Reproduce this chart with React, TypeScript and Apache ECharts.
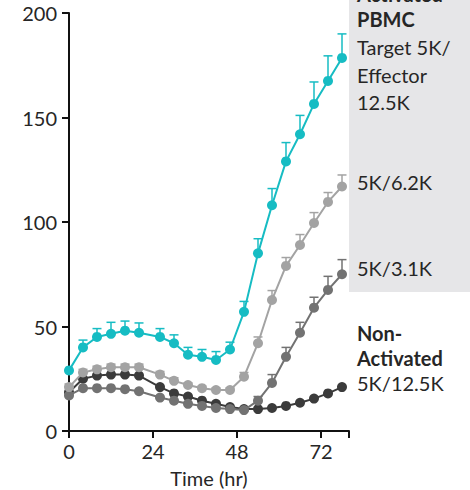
import React, { useEffect, useRef } from "react";
import * as echarts from "echarts";

const times = [0, 4, 8, 12, 16, 20, 26, 30, 34, 38, 42, 46, 50, 54, 58, 62, 66, 70, 74, 78];

const activated12_5K = [29, 40, 45, 46.5, 48, 47, 45, 42, 36.5, 35.5, 34, 39, 57, 85, 108, 129, 142, 156.5, 167.5, 178.5];
const activated12_5KErr = [0, 3.5, 4, 5.5, 4.6, 4.7, 4, 4, 3.5, 3.5, 4, 3.5, 5, 7, 8, 9, 9, 10.5, 12, 11.5];

const activated6_2K = [21, 28, 29.5, 30.5, 30.5, 30.5, 27, 24, 22, 20.5, 19.6, 19.6, 26, 42, 62.7, 79, 89, 99.5, 109.6, 117];
const activated6_2KErr = [1.5, 1.5, 1.5, 1.5, 1.5, 1.5, 1.5, 1.5, 1, 1, 1, 1, 2, 3, 4.5, 4, 5, 5, 4.5, 5.5];

const activated3_1K = [17, 20.5, 20.5, 20.5, 20, 19, 16, 14.5, 13, 12, 11, 10.5, 10, 14.5, 23, 35.5, 47, 59, 67.5, 75];
const activated3_1KErr = [0, 0, 0, 0, 0, 0, 0, 0, 0, 0, 0, 0, 0, 2, 4, 4.5, 5, 5, 6.5, 7];

const nonActivated12_5K = [18.5, 25, 26.5, 27, 27, 26.5, 21, 18, 16.5, 14.5, 13, 11.5, 10.5, 10.5, 11, 12, 13.5, 15.5, 18, 21];

const xTicks = [0, 24, 48, 72];
const yTicks = [0, 50, 100, 150, 200];

const TEAL = "#16bcc3";
const LIGHT = "#a3a3a3";
const MEDIUM = "#727272";
const DARK = "#3b3b3b";
const FONT = "Lato";

function errSeries(values: number[], errs: number[], color: string) {
  return {
    type: "custom",
    z: 1,
    data: times.map((t, i) => [t, values[i], errs[i]]),
    renderItem: (params: any, api: any) => {
      const x = api.value(0);
      const y = api.value(1);
      const e = api.value(2);
      if (!e) return { type: "group", children: [] };
      const p0 = api.coord([x, y]);
      const p1 = api.coord([x, y + e]);
      const style = { stroke: color, lineWidth: 1.5, fill: "none" };
      return {
        type: "group",
        children: [
          { type: "line", shape: { x1: p0[0], y1: p0[1], x2: p1[0], y2: p1[1] }, style },
          { type: "line", shape: { x1: p1[0] - 4.5, y1: p1[1], x2: p1[0] + 4.5, y2: p1[1] }, style },
        ],
      };
    },
  };
}

function lineSeries(name: string, values: number[], color: string, z: number) {
  return {
    type: "line",
    name,
    z,
    data: times.map((t, i) => [t, values[i]]),
    symbol: "circle",
    symbolSize: 10,
    lineStyle: { color, width: 2 },
    itemStyle: { color },
  };
}

export default function App() {
  const ref = useRef<HTMLDivElement>(null);
  useEffect(() => {
    if (!ref.current) return;
    const chart = echarts.init(ref.current, null, { renderer: "svg" });
    const textStyle = { fontFamily: FONT, fontSize: 20, fill: "#262626" };
    const legend = (text: string, y: number, bold = false) => ({
      type: "text",
      x: 357,
      y: y - 12,
      style: { ...textStyle, text, fontWeight: bold ? "bold" : "normal", verticalAlign: "top" },
      z: 10,
    });
    chart.setOption({
      animation: false,
      grid: { left: 69, top: 13, right: 121, bottom: 59, containLabel: false, outerBoundsMode: "none" },
      xAxis: {
        type: "value",
        min: 0,
        max: 80,
        interval: 24,
        splitLine: { show: false },
        axisLine: { show: true, onZero: false, lineStyle: { color: "#111", width: 2 } },
        axisTick: { show: true, length: 7, lineStyle: { color: "#111", width: 2 } },
        axisLabel: {
          fontFamily: FONT,
          fontSize: 20,
          color: "#262626",
          margin: 10,
          formatter: (v: number) => (xTicks.includes(v) ? String(v) : ""),
        },
        name: "Time (hr)",
        nameLocation: "middle",
        nameGap: 37,
        nameTextStyle: { fontFamily: FONT, fontSize: 20, color: "#262626" },
      },
      yAxis: {
        type: "value",
        min: 0,
        max: 200,
        interval: 50,
        splitLine: { show: false },
        axisLine: { show: true, lineStyle: { color: "#111", width: 2 } },
        axisTick: { show: true, length: 7, lineStyle: { color: "#111", width: 2 } },
        axisLabel: {
          fontFamily: FONT,
          fontSize: 20,
          color: "#262626",
          margin: 12,
          formatter: (v: number) => (yTicks.includes(v) ? String(v) : ""),
        },
      },
      graphic: [
        {
          type: "rect",
          shape: { x: 349, y: 0, width: 121, height: 292 },
          style: { fill: "#e6e6e8" },
          z: -10,
          silent: true,
        },
        legend("Activated", -4, true),
        legend("PBMC", 21, true),
        legend("Target 5K/", 49),
        legend("Effector", 77),
        legend("12.5K", 104),
        legend("5K/6.2K", 184),
        legend("5K/3.1K", 270),
        legend("Non-", 335, true),
        legend("Activated", 360, true),
        legend("5K/12.5K", 385),
      ],
      series: [
        errSeries(activated3_1K, activated3_1KErr, MEDIUM),
        errSeries(activated6_2K, activated6_2KErr, LIGHT),
        errSeries(activated12_5K, activated12_5KErr, TEAL),
        lineSeries("Non-Activated 5K/12.5K", nonActivated12_5K, DARK, 2),
        lineSeries("5K/3.1K", activated3_1K, MEDIUM, 3),
        lineSeries("5K/6.2K", activated6_2K, LIGHT, 4),
        lineSeries("Target 5K/Effector 12.5K", activated12_5K, TEAL, 5),
      ],
    });
    return () => chart.dispose();
  }, []);
  return <div ref={ref} style={{ width: 470, height: 490, position: "absolute", left: 0, top: 0 }} />;
}
